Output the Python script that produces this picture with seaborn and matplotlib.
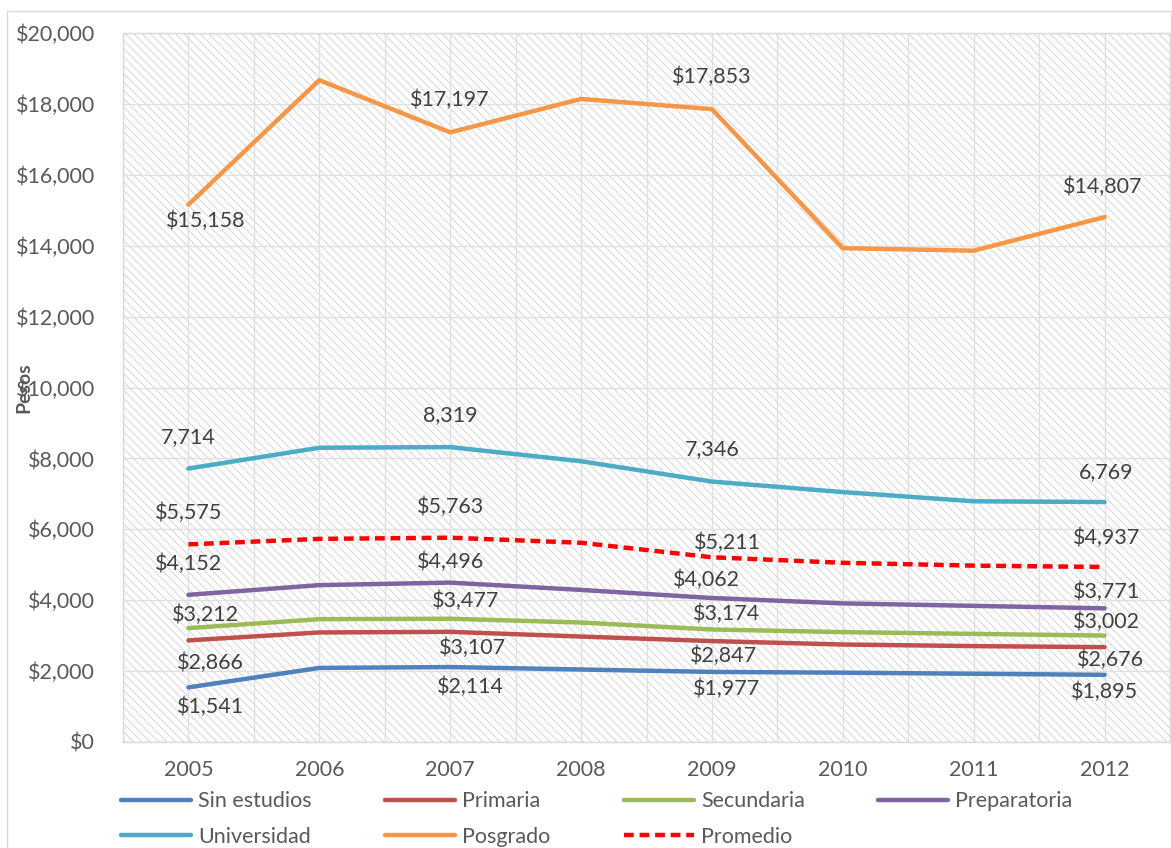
import matplotlib
matplotlib.use("agg")
import matplotlib.pyplot as plt
from matplotlib.patches import Rectangle
from matplotlib.ticker import FuncFormatter, MultipleLocator
import seaborn as sns
import pandas as pd

years = ["2005", "2006", "2007", "2008", "2009", "2010", "2011", "2012"]

sin_estudios = [1541, 2090, 2114, 2045, 1977, 1955, 1925, 1895]
primaria = [2866, 3090, 3107, 2975, 2847, 2750, 2705, 2676]
secundaria = [3212, 3465, 3477, 3370, 3174, 3100, 3050, 3002]
preparatoria = [4152, 4425, 4496, 4290, 4062, 3910, 3840, 3771]
universidad = [7714, 8300, 8319, 7920, 7346, 7050, 6790, 6769]
posgrado = [15158, 18670, 17197, 18140, 17853, 13930, 13860, 14807]
promedio = [5575, 5730, 5763, 5620, 5211, 5055, 4975, 4937]

series_names = ["Sin estudios", "Primaria", "Secundaria", "Preparatoria",
                "Universidad", "Posgrado", "Promedio"]
series_values = [sin_estudios, primaria, secundaria, preparatoria,
                 universidad, posgrado, promedio]

# which points carry a data label
label_idx = [0, 2, 4, 7]

colors = {"Sin estudios": "#4F81BD", "Primaria": "#C0504D",
          "Secundaria": "#9BBB59", "Preparatoria": "#8064A2",
          "Universidad": "#4BACC6", "Posgrado": "#F79646",
          "Promedio": "#FF0000"}

# label offsets in pixels (dx, dy) for each labelled point
offsets = {
    "Sin estudios": [(22, -20), (20, -20), (15, -17), (0, -17)],
    "Primaria": [(22, -22), (22, -16), (12, -15), (6, -13)],
    "Secundaria": [(17, 13), (15, 18), (15, 16), (2, 14)],
    "Preparatoria": [(0, 31), (0, 21), (-6, 18), (2, 16)],
    "Universidad": [(0, 31), (0, 32), (0, 32), (2, 30)],
    "Posgrado": [(17, -16), (0, 32), (0, 32), (-2, 30)],
    "Promedio": [(0, 31), (0, 31), (15, 14), (2, 29)],
}

rows = []
for name, vals in zip(series_names, series_values):
    for i, v in enumerate(vals):
        rows.append({"serie": name, "idx": i, "valor": v})
df = pd.DataFrame(rows)

sns.set_style("white")
plt.rcParams["font.family"] = ["Lato", "DejaVu Sans"]
plt.rcParams["hatch.linewidth"] = 0.6

fig = plt.figure(figsize=(11.72, 8.48), dpi=100)
ax = fig.add_axes([123 / 1172, 1 - 742 / 848, 1047 / 1172, 709 / 848])

# hatched plot background
ax.add_patch(Rectangle((0, 0), 1, 1, transform=ax.transAxes, facecolor="white",
                       edgecolor="#d0d0d0", hatch="\\\\\\\\", lw=0, zorder=0))

for name in series_names:
    sub = df[df["serie"] == name]
    sns.lineplot(data=sub, x="idx", y="valor", ax=ax, color=colors[name],
                 lw=3.2, label=name, zorder=3,
                 linestyle=(0, (2.2, 1.3)) if name == "Promedio" else "-")

for name, vals in zip(series_names, series_values):
    prefix = "" if name == "Universidad" else "$"
    for (dx, dy), i in zip(offsets[name], label_idx):
        ax.annotate(f"{prefix}{vals[i]:,}", (i, vals[i]), xytext=(dx, dy),
                    textcoords="offset pixels", ha="center", va="center",
                    fontsize=15.5, color="#404040", zorder=4)

ax.set_xlim(-0.5, 7.5)
ax.set_ylim(0, 20000)
ax.set_xticks(range(len(years)))
ax.set_xticklabels(years)
ax.xaxis.set_minor_locator(MultipleLocator(0.5))
ax.yaxis.set_major_locator(MultipleLocator(2000))
ax.yaxis.set_major_formatter(FuncFormatter(lambda v, p: f"${v:,.0f}"))
ax.grid(True, which="both", axis="x", color="#e0e0e0", lw=1, zorder=1)
ax.grid(True, which="major", axis="y", color="#e0e0e0", lw=1, zorder=1)
ax.set_axisbelow(True)
ax.tick_params(axis="both", which="both", length=0, labelsize=15.5,
               labelcolor="#595959")
ax.tick_params(axis="y", pad=20)
ax.tick_params(axis="x", pad=13)
ax.set_xlabel("")
ax.set_ylabel("")
for sp in ax.spines.values():
    sp.set_color("#d9d9d9")
    sp.set_linewidth(1)

fig.text(24 / 1172, 1 - 388 / 848, "Pesos", rotation=90, ha="center",
         va="center", fontsize=14, fontweight="bold", color="#595959")

# legend filled column-wise, so reorder to read row by row
handles, labels = ax.get_legend_handles_labels()
ax.get_legend().remove()
order = [0, 4, 1, 5, 2, 6, 3]
fig.legend([handles[i] for i in order], [labels[i] for i in order], ncol=4,
           loc="upper left", bbox_to_anchor=(102 / 1172, 1 - 772 / 848),
           frameon=False, fontsize=15.5, labelcolor="#595959",
           handlelength=3.25, handletextpad=0.33, columnspacing=3.4,
           labelspacing=0.72)

# outer chart border
fig.patches.append(Rectangle((7 / 1172, -0.02), 1164 / 1172, 1.02 - 11 / 848,
                             transform=fig.transFigure, fill=False,
                             edgecolor="#d9d9d9", lw=1))

fig.savefig("out.png", dpi=100)
